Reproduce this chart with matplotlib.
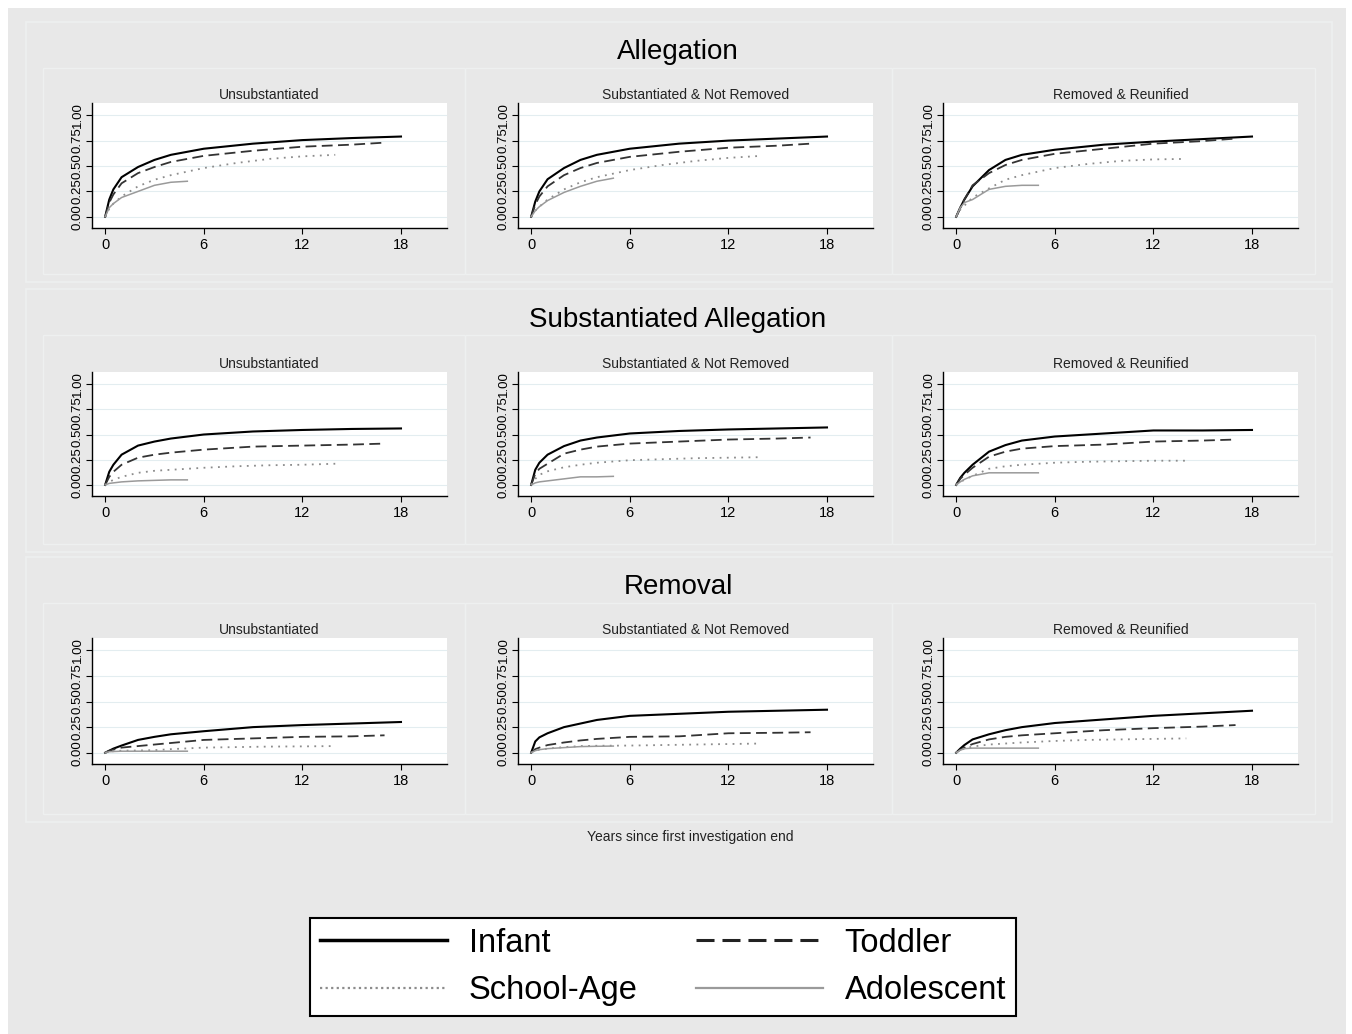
import matplotlib
matplotlib.use("Agg")
import matplotlib.pyplot as plt
from matplotlib.patches import Rectangle
from matplotlib.lines import Line2D

plt.rcParams['font.family'] = ['Liberation Sans', 'DejaVu Sans']

# ---------------- data ----------------
outcomes = ["Allegation", "Substantiated Allegation", "Removal"]
panels = ["Unsubstantiated", "Substantiated & Not Removed", "Removed & Reunified"]
groups = ["Infant", "Toddler", "School-Age", "Adolescent"]

years_infant = [0, 0.25, 0.5, 1, 2, 3, 4, 6, 9, 12, 15, 18]
years_toddler = [0, 0.25, 0.5, 1, 2, 3, 4, 6, 9, 12, 15, 17]
years_school = [0, 0.25, 0.5, 1, 2, 3, 4, 6, 8, 10, 12, 14]
years_adol = [0, 0.25, 0.5, 1, 2, 3, 4, 5]

# Allegation
alleg_unsub = [
    [0, .17, .27, .39, .49, .56, .61, .67, .72, .755, .775, .79],
    [0, .14, .22, .33, .43, .49, .54, .60, .65, .69, .71, .73],
    [0, .08, .13, .20, .30, .365, .41, .48, .53, .57, .595, .61],
    [0, .09, .13, .19, .25, .31, .34, .35],
]
alleg_subst = [
    [0, .15, .25, .37, .48, .56, .61, .67, .72, .75, .77, .79],
    [0, .12, .20, .30, .41, .48, .53, .59, .64, .68, .70, .72],
    [0, .06, .10, .17, .27, .34, .39, .46, .51, .55, .58, .60],
    [0, .06, .10, .16, .24, .30, .35, .38],
]
alleg_reun = [
    [0, .09, .17, .30, .46, .56, .61, .66, .71, .74, .765, .79],
    [0, .09, .17, .31, .43, .51, .56, .62, .67, .72, .745, .77],
    [0, .07, .11, .19, .28, .365, .41, .48, .52, .55, .565, .57],
    [0, .09, .14, .17, .27, .30, .31, .31],
]
# Substantiated allegation
subst_unsub = [
    [0, .13, .20, .30, .39, .43, .46, .50, .53, .545, .555, .56],
    [0, .08, .13, .20, .27, .30, .32, .35, .38, .39, .40, .41],
    [0, .03, .05, .08, .12, .14, .15, .17, .185, .195, .20, .21],
    [0, .015, .02, .03, .04, .045, .05, .05],
]
subst_subst = [
    [0, .15, .22, .30, .385, .44, .47, .51, .535, .55, .56, .57],
    [0, .11, .16, .21, .31, .35, .38, .41, .43, .45, .46, .47],
    [0, .06, .10, .135, .175, .20, .22, .245, .255, .265, .27, .275],
    [0, .02, .03, .04, .06, .08, .08, .085],
]
subst_reun = [
    [0, .07, .12, .20, .33, .395, .44, .48, .51, .54, .54, .545],
    [0, .06, .10, .17, .28, .33, .36, .385, .40, .43, .44, .45],
    [0, .03, .05, .09, .16, .185, .20, .22, .23, .235, .24, .24],
    [0, .03, .055, .09, .12, .12, .12, .12],
]
# Removal
rem_unsub = [
    [0, .02, .04, .07, .125, .155, .18, .21, .25, .27, .285, .30],
    [0, .02, .03, .05, .065, .08, .095, .125, .14, .155, .16, .17],
    [0, .01, .015, .02, .022, .025, .035, .05, .055, .06, .062, .065],
    [0, .01, .012, .015, .015, .015, .015, .015],
]
rem_subst = [
    [0, .11, .15, .19, .25, .285, .32, .36, .38, .40, .41, .42],
    [0, .035, .05, .075, .10, .12, .135, .155, .16, .19, .195, .20],
    [0, .02, .03, .04, .055, .065, .068, .07, .075, .08, .085, .09],
    [0, .02, .03, .04, .05, .06, .063, .065],
]
rem_reun = [
    [0, .04, .075, .13, .18, .22, .25, .29, .325, .36, .385, .41],
    [0, .03, .05, .085, .13, .155, .17, .19, .22, .24, .255, .27],
    [0, .025, .04, .06, .08, .09, .10, .115, .125, .13, .135, .14],
    [0, .025, .04, .045, .045, .045, .045, .045],
]

all_data = [
    [alleg_unsub, alleg_subst, alleg_reun],
    [subst_unsub, subst_subst, subst_reun],
    [rem_unsub, rem_subst, rem_reun],
]
years = [years_infant, years_toddler, years_school, years_adol]

x_ticks = [0, 6, 12, 18]
y_ticks = [0, 0.25, 0.5, 0.75, 1.0]
y_labels = ["0.00", "0.25", "0.50", "0.75", "1.00"]

styles = [
    dict(color="black", lw=1.5, ls="-"),
    dict(color="#333333", lw=1.3, ls=(0, (6, 3))),
    dict(color="#8c8c8c", lw=1.3, ls=(0, (1, 3))),
    dict(color="#9a9a9a", lw=1.1, ls="-"),
]

# ---------------- figure ----------------
W, H = 1352, 1034
fig = plt.figure(figsize=(W / 100, H / 100), dpi=100)
fig.patch.set_facecolor("white")


def fx(x):
    return x / W


def fy(y):
    return 1 - y / H


def box(x0, y0, x1, y1, **kw):
    fig.patches.append(Rectangle((fx(x0), fy(y1)), fx(x1 - x0), (y1 - y0) / H,
                                 transform=fig.transFigure, **kw))


# grey background and faint panel frames
box(8, 8, 1346, 1034, facecolor="#e8e8e8", edgecolor="none", zorder=-2)
row_frames = [(22, 282), (289, 552), (557, 822)]
for top, bot in row_frames:
    box(26, top, 1332, bot, facecolor="none", edgecolor="#eef0f0", lw=1.2, zorder=-1)
    for cx0, cx1 in [(43, 465), (465, 892), (892, 1315)]:
        box(cx0, top + 46, cx1, bot - 8, facecolor="none", edgecolor="#eef0f0", lw=1.0, zorder=-1)

col_left = [92, 518, 943]
ax_w = 355
row_top = [103, 372, 638]
row_bot = [228, 496, 764]
title_y = [52, 320, 587]

for r in range(3):
    fig.text(fx(678), fy(title_y[r]), outcomes[r], ha="center", va="center",
             fontsize=20, color="black")
    for c in range(3):
        ax = fig.add_axes([fx(col_left[c]), fy(row_bot[r]), ax_w / W,
                           (row_bot[r] - row_top[r]) / H])
        ax.set_zorder(2)
        ax.set_facecolor("white")
        for g in range(4):
            ax.plot(years[g], all_data[r][c][g], **styles[g])
        ax.set_xlim(-0.8, 20.8)
        ax.set_ylim(-0.11, 1.12)
        ax.set_xticks(x_ticks)
        ax.set_yticks(y_ticks)
        ax.set_yticklabels(y_labels, rotation=90, va="center")
        ax.tick_params(axis="x", labelsize=10.5, length=4, width=0.8, pad=3)
        ax.tick_params(axis="y", labelsize=9.5, length=4, width=0.8, pad=2)
        ax.grid(axis="y", color="#e3edf0", lw=0.8)
        ax.set_axisbelow(True)
        for s in ["top", "right"]:
            ax.spines[s].set_visible(False)
        for s in ["left", "bottom"]:
            ax.spines[s].set_linewidth(1.0)
        ax.set_title(panels[c], fontsize=10, pad=3, color="#222222")

fig.text(fx(690), fy(837), "Years since first investigation end", ha="center",
         va="center", fontsize=10, color="#222222")

# legend
handles = [
    Line2D([], [], color="black", lw=2.5),
    Line2D([], [], color="#222222", lw=2.2, ls=(0, (5.9, 2.6))),
    Line2D([], [], color="#8c8c8c", lw=1.6, ls=(0, (1, 1.5))),
    Line2D([], [], color="#9a9a9a", lw=1.6),
]
order = [0, 2, 1, 3]
leg = fig.legend([handles[i] for i in order], [groups[i] for i in order],
                 loc="center", bbox_to_anchor=(fx(663), fy(967)), ncol=2,
                 fontsize=23.5, frameon=True, fancybox=False, edgecolor="black",
                 framealpha=1, handlelength=3.9, handletextpad=0.65,
                 columnspacing=1.8, labelspacing=0.5, borderpad=0.3)
leg.get_frame().set_linewidth(1.5)
leg.get_frame().set_facecolor("white")
leg.set_zorder(3)

fig.savefig("out.png", dpi=100, facecolor=fig.get_facecolor())
